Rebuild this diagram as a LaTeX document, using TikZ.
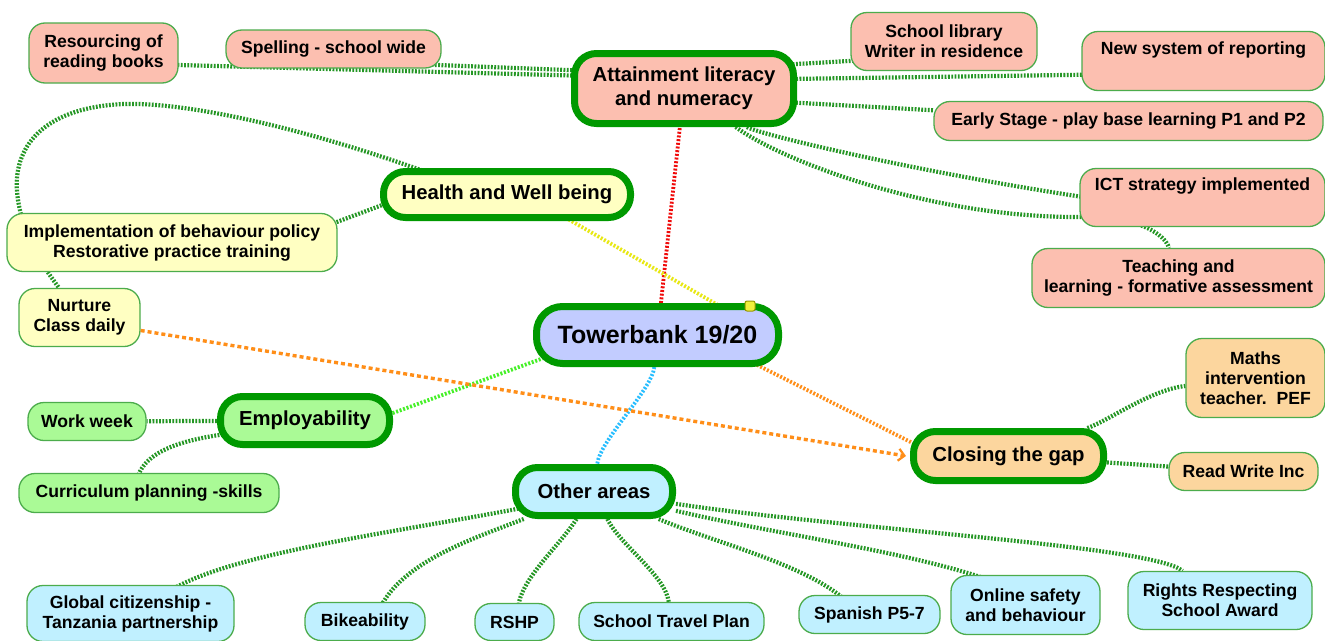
\documentclass[tikz,border=0pt]{standalone}
\usepackage{fontspec}
\setmainfont{Liberation Sans}
\usetikzlibrary{calc,backgrounds,arrows.meta}
\definecolor{csalmon}{RGB}{252,191,176}
\definecolor{cyel}{RGB}{255,255,194}
\definecolor{clav}{RGB}{194,204,255}
\definecolor{cgrn}{RGB}{170,250,150}
\definecolor{corg}{RGB}{252,214,158}
\definecolor{ccyan}{RGB}{192,240,255}
\definecolor{mborder}{RGB}{0,153,0}
\definecolor{lborder}{RGB}{76,172,76}
\definecolor{cline}{RGB}{36,150,36}
\definecolor{lred}{RGB}{240,10,10}
\definecolor{lyel}{RGB}{232,232,20}
\definecolor{llime}{RGB}{70,240,40}
\definecolor{lblue}{RGB}{40,190,255}
\definecolor{lorg}{RGB}{255,142,24}
\begin{document}
\begin{tikzpicture}[x=1pt,y=-1pt,
  mainnode/.style={draw=mborder, line width=7pt, rounded corners=22pt, inner sep=0pt,
    align=center, font=\bfseries\fontsize{20.3}{24}\selectfont},
  leaf/.style={draw=lborder, line width=1.3pt, rounded corners=16pt, inner sep=0pt,
    align=center, font=\bfseries\fontsize{17.6}{20}\selectfont},
  conn/.style={line width=4.2pt, dash pattern=on 1.8pt off 1.5pt, draw=cline},
  hub/.style={line width=3.8pt, dash pattern=on 2pt off 1.7pt}]
\useasboundingbox (0,0) rectangle (1325,640);

% main nodes
\node[mainnode, fill=csalmon, minimum width=219pt, minimum height=70pt] (att) at (684,88.5) {Attainment literacy\\and numeracy};
\node[mainnode, fill=cyel, minimum width=247pt, minimum height=46pt] (health) at (507,194.5) {Health and Well being};
\node[mainnode, fill=clav, minimum width=242pt, minimum height=57pt, rounded corners=26pt, font=\bfseries\fontsize{25}{28}\selectfont] (tower) at (657.5,335) {Towerbank 19/20};
\node[mainnode, fill=cgrn, minimum width=169pt, minimum height=48pt] (emp) at (305,420.5) {Employability};
\node[mainnode, fill=corg, minimum width=190pt, minimum height=49pt] (close) at (1008.5,456) {Closing the gap};
\node[mainnode, fill=ccyan, minimum width=157pt, minimum height=48pt] (other) at (594,491.5) {Other areas};
\node[draw={rgb,255:red,150;green,150;blue,0}, fill={rgb,255:red,240;green,240;blue,60}, line width=1pt, rounded corners=2pt, minimum size=10pt, inner sep=0pt] (flag) at (750,306) {};

% leaves
\node[leaf, fill=csalmon, minimum width=149pt, minimum height=60pt] (res) at (103.5,53) {Resourcing of\\reading books};
\node[leaf, fill=csalmon, minimum width=215pt, minimum height=38pt] (spell) at (333.5,49) {Spelling - school wide};
\node[leaf, fill=csalmon, minimum width=186pt, minimum height=58pt] (lib) at (944,41.5) {School library\\Writer in residence};
\node[leaf, fill=csalmon, minimum width=243pt, minimum height=59pt] (report) at (1203.5,61) {New system of reporting\\\strut};
\node[leaf, fill=csalmon, minimum width=389pt, minimum height=39pt] (early) at (1128.5,121) {Early Stage - play base learning P1 and P2};
\node[leaf, fill=csalmon, minimum width=245pt, minimum height=58pt] (ict) at (1202.5,197.5) {ICT strategy implemented\\\strut};
\node[leaf, fill=csalmon, minimum width=293pt, minimum height=59pt] (teach) at (1178.5,278) {Teaching and\\learning - formative assessment};
\node[leaf, fill=cyel, minimum width=330pt, minimum height=58pt] (impl) at (172,242.5) {Implementation of behaviour policy\\Restorative practice training};
\node[leaf, fill=cyel, minimum width=121pt, minimum height=58pt] (nurt) at (79.5,317.5) {Nurture\\Class daily};
\node[leaf, fill=cgrn, minimum width=118pt, minimum height=38pt] (work) at (87,421.5) {Work week};
\node[leaf, fill=cgrn, minimum width=260pt, minimum height=39pt] (curr) at (149,493) {Curriculum planning -skills};
\node[leaf, fill=corg, minimum width=139pt, minimum height=79pt] (maths) at (1255.5,378) {Maths\\intervention\\teacher.\ \ PEF};
\node[leaf, fill=corg, minimum width=149pt, minimum height=38pt] (rwi) at (1243.5,471.5) {Read Write Inc};
\node[leaf, fill=ccyan, minimum width=207pt, minimum height=56pt] (glob) at (130.5,613.5) {Global citizenship -\\Tanzania partnership};
\node[leaf, fill=ccyan, minimum width=120pt, minimum height=38pt] (bike) at (365,621.5) {Bikeability};
\node[leaf, fill=ccyan, minimum width=79pt, minimum height=37pt] (rshp) at (514.5,622) {RSHP};
\node[leaf, fill=ccyan, minimum width=185pt, minimum height=38pt] (travel) at (671.5,621.5) {School Travel Plan};
\node[leaf, fill=ccyan, minimum width=141pt, minimum height=38pt] (span) at (869.5,614.5) {Spanish P5-7};
\node[leaf, fill=ccyan, minimum width=149pt, minimum height=59pt] (online) at (1025.5,605) {Online safety\\and behaviour};
\node[leaf, fill=ccyan, minimum width=184pt, minimum height=58pt] (rights) at (1220,600.5) {Rights Respecting\\School Award};

\begin{scope}[on background layer]
\fill[white] (0,0) rectangle (1325,640);
% hub connectors
\draw[hub, lred] (tower) -- (att);
\draw[hub, lyel] ($(tower)+(83,-17)$) -- ($(health)+(53,20)$);
\draw[hub, llime] ($(tower)+(-37,-5)$) -- ($(emp)+(40,10)$);
\draw[hub, lblue] (tower) .. controls (652,390) and (600,440) .. (other);
\draw[hub, lorg] ($(tower)+(40,0)$) -- ($(close)+(-58,6)$);
% attainment leaves
\draw[conn] ($(att)+(0,-10)$) -- ($(res)+(0,10)$);
\draw[conn] ($(att)+(0,-14)$) -- ($(spell)+(0,12)$);
\draw[conn] ($(att)+(0,-18)$) -- ($(lib)+(0,14)$);
\draw[conn] ($(att)+(0,-8)$) -- ($(report)+(0,12)$);
\draw[conn] ($(att)+(0,8)$) -- (early);
\draw[conn] (att) .. controls (760,135) and (950,180) .. ($(ict)+(-60,8)$);
\draw[conn] (att) .. controls (780,160) and (930,218) .. (1080,217) .. controls (1140,216) and (1165,235) .. (teach);
% health leaves
\draw[conn] ($(health)+(-110,5)$) -- ($(impl)+(110,0)$);
\draw[conn] ($(health)+(-60,-15)$) .. controls (300,125) and (170,98) .. (110,105)
   .. controls (40,112) and (10,150) .. (18,200) .. controls (25,245) and (50,275) .. (nurt);
% employability leaves
\draw[conn] (emp) -- (work);
\draw[conn] ($(emp)+(-20,8)$) .. controls (180,435) and (135,450) .. ($(curr)+(-14,0)$);
% closing leaves
\draw[conn] (close) .. controls (1110,420) and (1150,390) .. (maths);
\draw[conn] (close) -- (rwi);
% other areas leaves
\draw[conn] ($(other)+(-40,10)$) .. controls (420,530) and (230,550) .. ($(glob)+(35,-20)$);
\draw[conn] (other) .. controls (470,540) and (390,565) .. ($(bike)+(10,0)$);
\draw[conn] (other) .. controls (560,545) and (525,575) .. (rshp);
\draw[conn] (other) .. controls (620,545) and (665,575) .. (travel);
\draw[conn] (other) .. controls (720,545) and (830,570) .. ($(span)+(-12,0)$);
\draw[conn] (other) .. controls (800,540) and (980,560) .. ($(online)+(15,0)$);
\draw[conn] (other) .. controls (850,530) and (1150,545) .. (rights);
\end{scope}

% arrow nurture -> closing
\draw[lorg, line width=3.4pt, dash pattern=on 4pt off 3pt, -{Straight Barb[length=6pt,width=12pt,line width=2.2pt]}]
  ($(nurt.east)+(0,13)$) -- ([xshift=-4pt]close.west);
\end{tikzpicture}
\end{document}
